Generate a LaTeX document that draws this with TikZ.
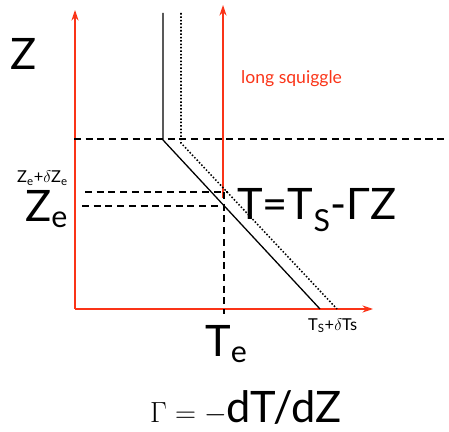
\documentclass[tikz,border=0pt]{standalone}
\usepackage{fontspec}
\setmainfont{Lato}
\usetikzlibrary{arrows.meta}
\definecolor{axisred}{RGB}{250,52,24}
\begin{document}
\begin{tikzpicture}[
    x=0.03cm,
    y=-0.03cm,
    axis/.style={
        draw=axisred,
        line width=1.1pt,
        -{Stealth[length=9pt,width=6pt]}
    },
    profile/.style={draw, line width=1.1pt},
    shifted/.style={draw, line width=1.3pt, dash pattern=on 1.3pt off 1.6pt},
    guide/.style={draw, line width=1pt, dash pattern=on 6pt off 4pt},
    big/.style={anchor=base west, inner sep=0pt, font=\fontsize{37}{40}\selectfont},
    small/.style={anchor=base west, inner sep=0pt, font=\fontsize{14}{16}\selectfont}
]
    \useasboundingbox (0,0) rectangle (449,432);

    \coordinate (orig) at (75,309);
    \coordinate (zaxis) at (75,10);
    \coordinate (taxis) at (373,309);
    \coordinate (reddown) at (223,198);
    \coordinate (redup) at (223,5);
    \coordinate (p1) at (163,13);
    \coordinate (p2) at (163,140);
    \coordinate (p3) at (320,309);
    \coordinate (q1) at (181,13);
    \coordinate (q2) at (181,143);
    \coordinate (q3) at (337,309);
    \coordinate (topl) at (74,139);
    \coordinate (topr) at (445,139);
    \coordinate (dzl) at (85,192);
    \coordinate (dzr) at (228,192);
    \coordinate (zel) at (82,206);
    \coordinate (zer) at (224,206);
    \coordinate (tetop) at (224,192);
    \coordinate (tebot) at (224,314);

    \draw[axis] (orig) -- (zaxis);
    \draw[axis] (orig) -- (taxis);
    \draw[axis] (reddown) -- (redup);

    \draw[guide] (topl) -- (topr);
    \draw[guide] (dzl) -- (dzr);
    \draw[guide] (zel) -- (zer);
    \draw[guide] (tetop) -- (tebot);

    \draw[profile] (p1) -- (p2) -- (p3);
    \draw[shifted] (q1) -- (q2) -- (q3);

    \node[big] (zlabel) at (10,70) {Z};
    \node[small, text=axisred, font=\fontsize{15}{17}\selectfont] (squiggle) at (241,84) {long squiggle};
    \node[small] (dzlabel) at (17,183) {Z\textsubscript{e}+$\delta$Z\textsubscript{e}};
    \node[big] (zelabel) at (25,222) {Z\textsubscript{e}};
    \node[big] (law) at (237,220) {T=T\textsubscript{S}-ΓZ};
    \node[big] (telabel) at (205,357) {T\textsubscript{e}};
    \node[small] (tslabel) at (308,330) {T\textsubscript{S}+$\delta$Ts};
    \node[big] (gamma) at (150,422) {$\Gamma=-$dT/dZ};
\end{tikzpicture}
\end{document}
